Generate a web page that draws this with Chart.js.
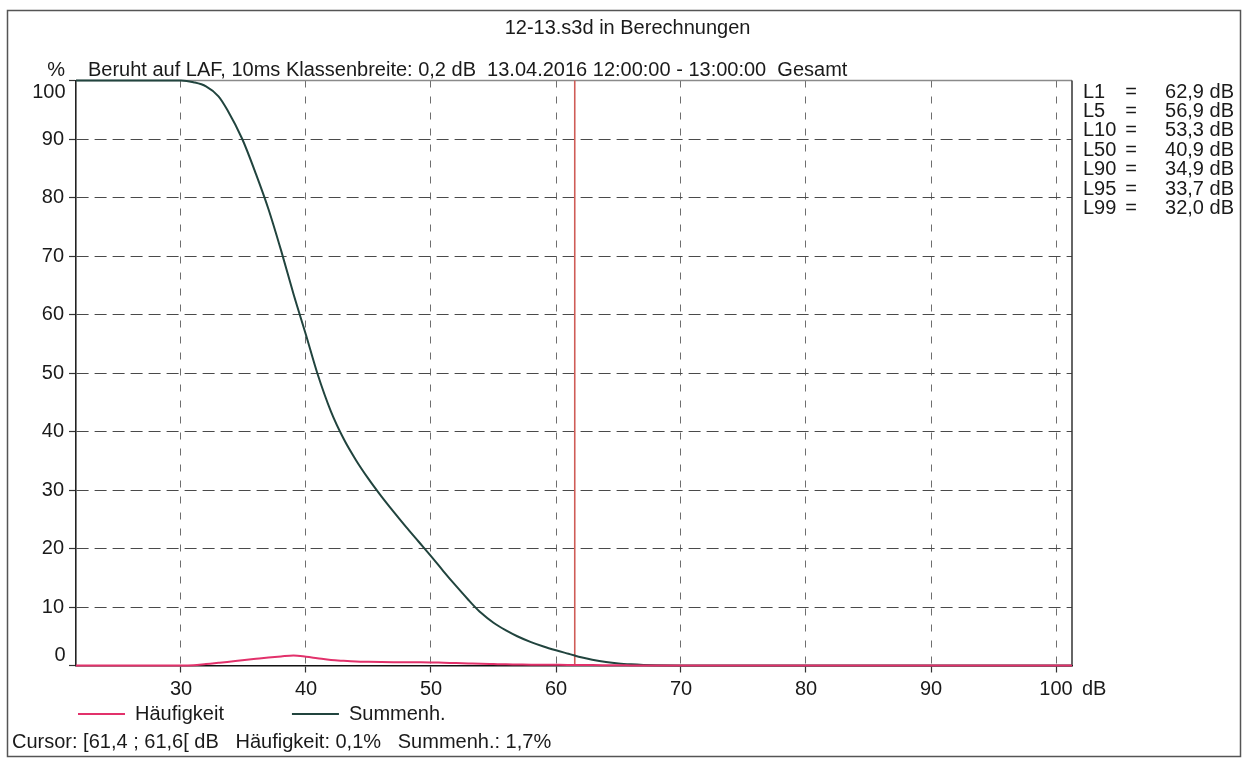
<!DOCTYPE html>
<html><head><meta charset="utf-8">
<script src="https://cdn.jsdelivr.net/npm/chart.js@4"></script>
<style>html,body{margin:0;padding:0;background:#fff;overflow:hidden}#wrap{width:1245px;height:758px;position:relative}</style>
</head><body><div id="wrap"><canvas id="c" width="1245" height="758"></canvas></div>
<script>
const chartTitle = '12-13.s3d in Berechnungen';
const subTitle = 'Beruht auf LAF, 10ms Klassenbreite: 0,2 dB  13.04.2016 12:00:00 - 13:00:00  Gesamt';
const seriesNames = ['Häufigkeit', 'Summenh.'];
const levelsDb    = [21.6, 30, 31, 32, 33, 33.7, 34.9, 36, 37, 38, 39, 40, 40.9, 42, 43, 44, 45, 46, 47, 48, 49, 50, 51, 52, 53, 53.3, 54, 55, 56, 56.9, 58, 59, 60, 61, 61.5, 62, 62.9, 64, 65, 66, 67, 68, 70, 101.28];
const haeufigkeit = [0, 0, 0.05, 0.25, 0.45, 0.6, 0.9, 1.15, 1.37, 1.55, 1.7, 1.5, 1.25, 0.95, 0.8, 0.68, 0.62, 0.58, 0.56, 0.56, 0.55, 0.53, 0.47, 0.42, 0.36, 0.34, 0.3, 0.25, 0.2, 0.17, 0.13, 0.12, 0.11, 0.1, 0.1, 0.09, 0.07, 0.05, 0.03, 0.02, 0.01, 0, 0, 0];
const summenh     = [100, 100, 99.7, 99, 97.3, 95, 90, 84, 78, 71, 63.5, 56.5, 50, 43.4, 38.8, 35.1, 31.9, 29.0, 26.3, 23.7, 21.2, 18.7, 16.1, 13.6, 11.2, 10.5, 9.0, 7.3, 6.0, 5.0, 4.0, 3.25, 2.6, 2.0, 1.7, 1.42, 1.0, 0.6, 0.35, 0.2, 0.1, 0.04, 0, 0];
const xTicks = [30, 40, 50, 60, 70, 80, 90, 100];
const yTicks = [0, 10, 20, 30, 40, 50, 60, 70, 80, 90, 100];
const statNames  = ['L1', 'L5', 'L10', 'L50', 'L90', 'L95', 'L99'];
const statValues = ['62,9 dB', '56,9 dB', '53,3 dB', '40,9 dB', '34,9 dB', '33,7 dB', '32,0 dB'];
const cursorDb = 61.5;
const cursorText = 'Cursor: [61,4 ; 61,6[ dB   Häufigkeit: 0,1%   Summenh.: 1,7%';

const F = '"Liberation Sans", Arial, Helvetica, sans-serif';
const FS = 20;
const TXT = '#1a1a1a';
const pink = '#e2316b';
const teal = '#21443e';

const decor = {
  id: 'decor',
  beforeDraw(chart) {
    const ctx = chart.ctx;
    ctx.save();
    ctx.fillStyle = '#fff';
    ctx.fillRect(0, 0, chart.width, chart.height);
    ctx.strokeStyle = '#555';
    ctx.lineWidth = 1.5;
    ctx.strokeRect(7.5, 10.5, 1233, 746);
    ctx.restore();
  },
  beforeDatasetsDraw(chart) {
    const ctx = chart.ctx, a = chart.chartArea, x = chart.scales.x;
    ctx.save();
    ctx.lineWidth = 1.5;
    ctx.strokeStyle = '#8a8a8a';
    ctx.beginPath(); ctx.moveTo(a.left, a.top); ctx.lineTo(a.right, a.top); ctx.stroke();
    ctx.strokeStyle = '#333';
    ctx.beginPath(); ctx.moveTo(a.right, a.top); ctx.lineTo(a.right, a.bottom); ctx.stroke();
    const cx = x.getPixelForValue(cursorDb);
    ctx.strokeStyle = '#cf5c57';
    ctx.lineWidth = 1.6;
    ctx.beginPath(); ctx.moveTo(cx, a.top); ctx.lineTo(cx, a.bottom); ctx.stroke();
    ctx.restore();
  },
  afterDraw(chart) {
    const ctx = chart.ctx, a = chart.chartArea, y = chart.scales.y;
    ctx.save();
    ctx.fillStyle = TXT;
    ctx.font = FS + 'px ' + F;
    ctx.textBaseline = 'middle';
    ctx.textAlign = 'left';
    ctx.fillText(subTitle, 88, 70);
    ctx.textAlign = 'right';
    ctx.fillText('%', 65, 70);
    ctx.fillText(String(yTicks[0]), 65.5, y.getPixelForValue(yTicks[0]) - 10);
    ctx.fillText(String(yTicks[yTicks.length - 1]), 65.5, y.getPixelForValue(yTicks[yTicks.length - 1]) + 12);
    ctx.textAlign = 'left';
    ctx.fillText('dB', 1082, a.bottom + 24);
    for (let i = 0; i < statNames.length; i++) {
      const yy = 92 + i * 19.4;
      ctx.textAlign = 'left';
      ctx.fillText(statNames[i], 1083, yy);
      ctx.textAlign = 'center';
      ctx.fillText('=', 1131, yy);
      ctx.textAlign = 'right';
      ctx.fillText(statValues[i], 1234, yy);
    }
    ctx.textAlign = 'left';
    ctx.fillText(cursorText, 12, 742);
    ctx.restore();
  }
};

new Chart(document.getElementById('c'), {
  type: 'line',
  data: {
    datasets: [
      { label: seriesNames[0], data: levelsDb.map((v, i) => ({x: v, y: haeufigkeit[i]})), borderColor: pink, backgroundColor: pink, borderWidth: 2, pointRadius: 0, cubicInterpolationMode: 'monotone', clip: 4 },
      { label: seriesNames[1], data: levelsDb.map((v, i) => ({x: v, y: summenh[i]})), borderColor: teal, backgroundColor: teal, borderWidth: 2, pointRadius: 0, cubicInterpolationMode: 'monotone', clip: 4 }
    ]
  },
  options: {
    responsive: false,
    animation: false,
    devicePixelRatio: 1,
    events: [],
    layout: { padding: { left: 10, right: 0, top: 0, bottom: 24 } },
    plugins: {
      title: { display: true, text: chartTitle, color: TXT, font: { family: F, size: FS, weight: 'normal', lineHeight: 1.2 }, padding: { top: 16, bottom: 40.5 } },
      legend: {
        position: 'bottom', align: 'start',
        title: { display: true, text: '', font: { size: 10, lineHeight: 1 }, padding: { top: -75, bottom: 0 } },
        labels: {
          color: TXT, font: { family: F, size: FS }, boxWidth: 47, boxHeight: 2, padding: 68,
          generateLabels: (chart) => Chart.defaults.plugins.legend.labels.generateLabels(chart).map(l => ({ ...l, lineWidth: 0, fillStyle: l.strokeStyle }))
        }
      },
      tooltip: { enabled: false }
    },
    scales: {
      x: {
        type: 'linear', min: 21.6, max: 101.28,
        afterBuildTicks: s => { s.ticks = xTicks.map(v => ({ value: v })); },
        afterFit: s => { s.height = 35.5; },
        grid: { color: '#6e6e6e', lineWidth: 1, tickLength: 7, tickColor: '#333', tickWidth: 1.2 },
        border: { display: true, color: '#111', width: 1.6, dash: [7, 9] },
        ticks: { color: TXT, font: { family: F, size: FS }, padding: 5, maxRotation: 0 }
      },
      y: {
        type: 'linear', min: 0, max: 100,
        afterBuildTicks: s => { s.ticks = yTicks.map(v => ({ value: v })); },
        afterFit: s => { s.width = 66; },
        grid: { color: '#4a4a4a', lineWidth: 1, tickLength: 7, tickColor: '#333', tickWidth: 1.2 },
        border: { display: true, color: '#222', width: 1.6, dash: [12, 6] },
        ticks: { color: TXT, font: { family: F, size: FS }, padding: 5, callback: v => (v === yTicks[0] || v === yTicks[yTicks.length - 1]) ? '' : String(v) }
      },
      yStats: {
        type: 'linear', position: 'right', min: 0, max: 100,
        afterFit: s => { s.width = 173; },
        grid: { display: false, drawTicks: false },
        border: { display: false },
        ticks: { display: false }
      }
    }
  },
  plugins: [decor]
});
</script>
</body></html>
